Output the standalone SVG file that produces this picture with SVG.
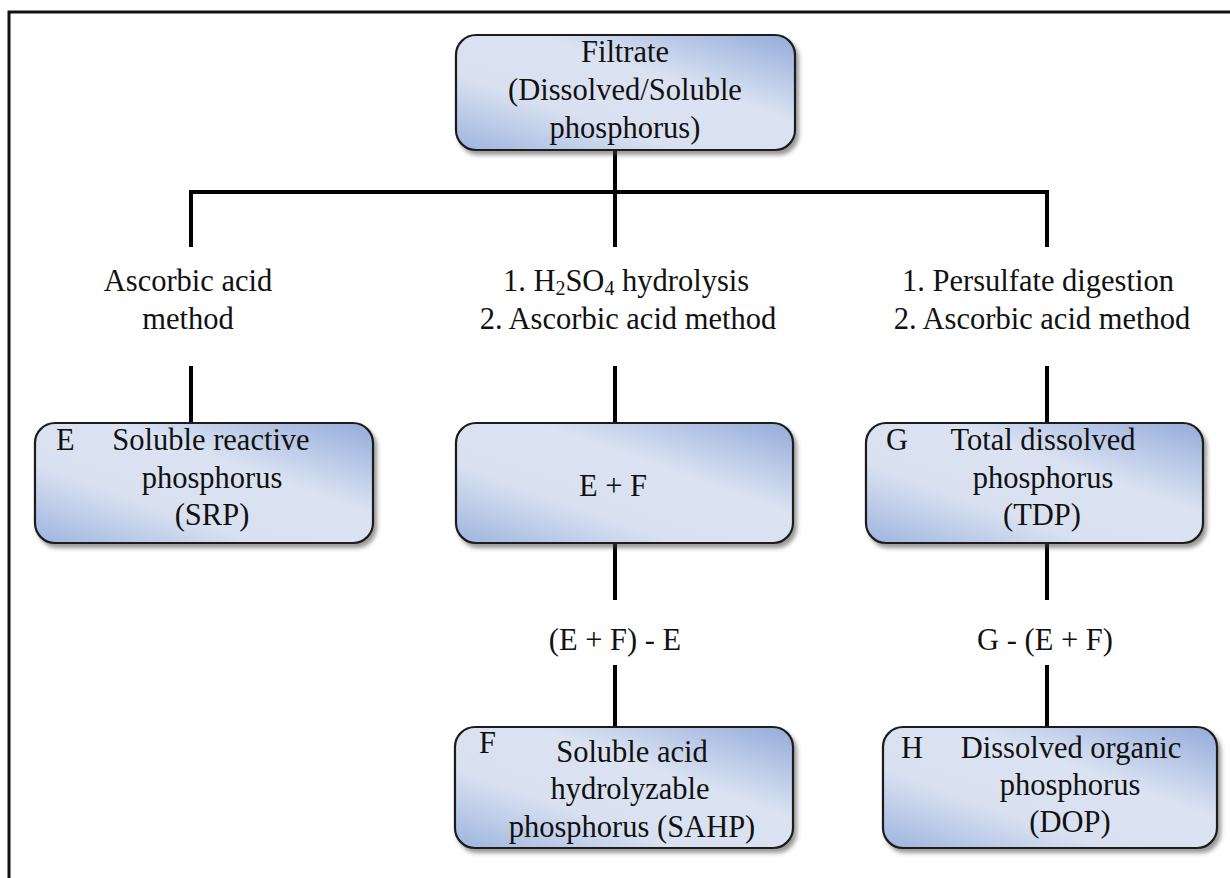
<svg xmlns="http://www.w3.org/2000/svg" width="1230" height="878" viewBox="0 0 1230 878">
  <defs>
    <linearGradient id="boxGrad" x1="0" y1="1" x2="1" y2="0">
      <stop offset="0" stop-color="#9db4de"/>
      <stop offset="0.33" stop-color="#d9e1f1"/>
      <stop offset="0.62" stop-color="#dbe3f2"/>
      <stop offset="1" stop-color="#93abda"/>
    </linearGradient>
    <filter id="shadow" x="-5%" y="-5%" width="115%" height="120%">
      <feDropShadow dx="3" dy="4" stdDeviation="2" flood-color="#444" flood-opacity="0.55"/>
    </filter>
  </defs>
  <style>
    .box { fill: url(#boxGrad); stroke: #1e1e1e; stroke-width: 2.2; filter: url(#shadow); }
    text { font-family: 'Liberation Serif', 'DejaVu Serif', 'Times New Roman', serif; font-size: 30.5px; fill: #111; }
    .t { text-anchor: middle; }
    .tl { text-anchor: start; }
    .sub { font-size: 20px; }
    .conn { stroke: #000; stroke-width: 4; fill: none; }
  </style>
  <rect x="0" y="0" width="1230" height="878" fill="#fff"/>
  <rect x="9" y="12" width="1240" height="900" fill="none" stroke="#111" stroke-width="3"/>

  <g id="connectors">
    <line class="conn" x1="615" y1="150" x2="615" y2="247"/>
    <line class="conn" x1="189" y1="192" x2="1049" y2="192"/>
    <line class="conn" x1="191" y1="190" x2="191" y2="247"/>
    <line class="conn" x1="1047" y1="190" x2="1047" y2="247"/>
    <line class="conn" x1="191" y1="366" x2="191" y2="423"/>
    <line class="conn" x1="615" y1="366" x2="615" y2="423"/>
    <line class="conn" x1="1047" y1="366" x2="1047" y2="423"/>
    <line class="conn" x1="615" y1="543" x2="615" y2="600"/>
    <line class="conn" x1="1047" y1="543" x2="1047" y2="600"/>
    <line class="conn" x1="615" y1="665" x2="615" y2="727"/>
    <line class="conn" x1="1047" y1="665" x2="1047" y2="727"/>
  </g>

  <g id="labels">
    <text class="t" x="188" y="291">Ascorbic acid</text>
    <text class="t" x="188" y="329">method</text>
    <text class="t" x="626" y="291">1. H<tspan class="sub" dy="4">2</tspan><tspan dy="-4">SO</tspan><tspan class="sub" dy="4">4</tspan><tspan dy="-4"> hydrolysis</tspan></text>
    <text class="t" x="628" y="329">2. Ascorbic acid method</text>
    <text class="t" x="1038" y="291">1. Persulfate digestion</text>
    <text class="t" x="1042" y="329">2. Ascorbic acid method</text>
    <text class="t" x="615" y="650">(E + F) - E</text>
    <text class="t" x="1045" y="650">G - (E + F)</text>
  </g>

  <g id="node-filtrate">
    <rect class="box" x="456" y="35" width="339" height="115" rx="20"/>
    <text class="t" x="625" y="62">Filtrate</text>
    <text class="t" x="625" y="100">(Dissolved/Soluble</text>
    <text class="t" x="625" y="138">phosphorus)</text>
  </g>

  <g id="node-E">
    <rect class="box" x="35" y="423" width="338" height="120" rx="20"/>
    <text class="tl" x="56" y="450">E</text>
    <text class="t" x="211" y="450">Soluble reactive</text>
    <text class="t" x="212" y="488">phosphorus</text>
    <text class="t" x="212" y="525">(SRP)</text>
  </g>

  <g id="node-EF">
    <rect class="box" x="456" y="423" width="337" height="120" rx="20"/>
    <text class="t" x="613" y="496">E + F</text>
  </g>

  <g id="node-G">
    <rect class="box" x="866" y="423" width="337" height="120" rx="20"/>
    <text class="tl" x="886" y="450">G</text>
    <text class="t" x="1043" y="450">Total dissolved</text>
    <text class="t" x="1043" y="488">phosphorus</text>
    <text class="t" x="1042" y="525">(TDP)</text>
  </g>

  <g id="node-F">
    <rect class="box" x="455" y="727" width="338" height="121" rx="20"/>
    <text class="tl" x="479" y="753">F</text>
    <text class="t" x="632" y="762">Soluble acid</text>
    <text class="t" x="630" y="799">hydrolyzable</text>
    <text class="t" x="632" y="837">phosphorus (SAHP)</text>
  </g>

  <g id="node-H">
    <rect class="box" x="883" y="727" width="334" height="121" rx="20"/>
    <text class="tl" x="901" y="758">H</text>
    <text class="t" x="1071" y="758">Dissolved organic</text>
    <text class="t" x="1070" y="795">phosphorus</text>
    <text class="t" x="1070" y="832">(DOP)</text>
  </g>
</svg>
